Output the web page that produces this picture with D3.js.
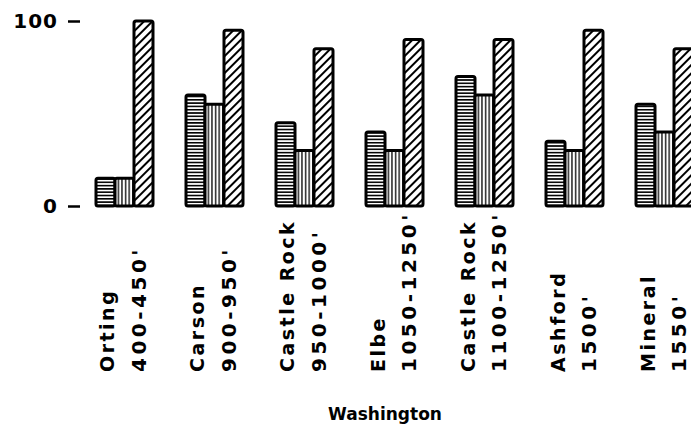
<!DOCTYPE html>
<html>
<head>
<meta charset="utf-8">
<script src="https://cdn.jsdelivr.net/npm/d3@7"></script>
<style>
  html, body { margin: 0; padding: 0; background: #fff; }
  svg { display: block; }
  text { font-family: "DejaVu Sans", sans-serif; font-weight: bold; fill: #000; }
</style>
</head>
<body>
<svg id="chart" width="691" height="431"></svg>
<script>
// Sites and elevation ranges (two-line labels under each group)
const sites = ["Orting", "Carson", "Castle Rock", "Elbe", "Castle Rock", "Ashford", "Mineral"];
const elevations = ["400-450'", "900-950'", "950-1000'", "1050-1250'", "1100-1250'", "1500'", "1550'"];

// Three series per site: horizontal-lined, vertical-lined, diagonal-hatched bars
const seriesKeys = ["horiz", "vert", "diag"];
const horizValues = [15, 60, 45, 40, 70, 35, 55];
const vertValues  = [15, 55, 30, 30, 60, 30, 40];
const diagValues  = [100, 95, 85, 90, 90, 95, 85];

const yTicks = [0, 100];
const xTitle = "Washington";

const svg = d3.select("#chart");

const groups = sites.map((s, i) => ({
  id: i,
  site: s,
  elev: elevations[i],
  values: [horizValues[i], vertValues[i], diagValues[i]]
}));

const x0 = d3.scaleBand()
  .domain(groups.map(g => g.id))
  .range([96, 693])
  .paddingInner(0.3667)
  .paddingOuter(0);

const x1 = d3.scaleBand()
  .domain(seriesKeys)
  .range([0, x0.bandwidth()]);

const y = d3.scaleLinear().domain([0, 100]).range([206, 21]);

// Fill patterns
const defs = svg.append("defs");

const pH = defs.append("pattern").attr("id", "pat-horiz")
  .attr("patternUnits", "userSpaceOnUse").attr("width", 6).attr("height", 3.3);
pH.append("rect").attr("width", 6).attr("height", 3.3).attr("fill", "#fff");
pH.append("line").attr("x1", 0).attr("x2", 6).attr("y1", 0.8).attr("y2", 0.8)
  .attr("stroke", "#000").attr("stroke-width", 1.6);

const pV = defs.append("pattern").attr("id", "pat-vert")
  .attr("patternUnits", "userSpaceOnUse").attr("width", 3.6).attr("height", 6);
pV.append("rect").attr("width", 3.6).attr("height", 6).attr("fill", "#fff");
pV.append("line").attr("x1", 0.8).attr("x2", 0.8).attr("y1", 0).attr("y2", 6)
  .attr("stroke", "#000").attr("stroke-width", 1.3);

const pD = defs.append("pattern").attr("id", "pat-diag")
  .attr("patternUnits", "userSpaceOnUse").attr("width", 6).attr("height", 6)
  .attr("patternTransform", "rotate(45)");
pD.append("rect").attr("width", 6).attr("height", 6).attr("fill", "#fff");
pD.append("line").attr("x1", 1).attr("x2", 1).attr("y1", 0).attr("y2", 6)
  .attr("stroke", "#000").attr("stroke-width", 2);

const fills = { horiz: "url(#pat-horiz)", vert: "url(#pat-vert)", diag: "url(#pat-diag)" };

// Bars
const g = svg.append("g").selectAll("g.group")
  .data(groups).join("g")
  .attr("class", "group")
  .attr("transform", d => `translate(${x0(d.id)},0)`);

g.selectAll("rect")
  .data(d => seriesKeys.map((k, i) => ({ key: k, value: d.values[i] })))
  .join("rect")
  .attr("x", d => x1(d.key))
  .attr("y", d => y(d.value))
  .attr("width", x1.bandwidth())
  .attr("height", d => y(0) - y(d.value))
  .attr("rx", 2)
  .attr("fill", d => fills[d.key])
  .attr("stroke", "#000")
  .attr("stroke-width", 3)
  .attr("stroke-linejoin", "round");

// Y axis: tick labels with short dashes, no axis line
const yAxis = d3.axisLeft(y).tickValues(yTicks).tickSize(12).tickPadding(10);
const ya = svg.append("g").attr("transform", "translate(80,0)").call(yAxis);
ya.select(".domain").remove();
ya.selectAll(".tick line").attr("stroke", "#000").attr("stroke-width", 2.5);
ya.selectAll(".tick text")
  .attr("font-size", 20)
  .style("font-family", "DejaVu Sans")
  .style("font-weight", "bold")
  .attr("letter-spacing", 1);

// Rotated two-line group labels
const lab = svg.append("g").selectAll("g.lab")
  .data(groups).join("g")
  .attr("class", "lab")
  .attr("transform", d => `translate(${x0(d.id) + x0.bandwidth() / 2},372)`);

lab.append("text")
  .attr("transform", "translate(-10,0) rotate(-90)")
  .attr("text-anchor", "start")
  .attr("font-size", 19)
  .attr("letter-spacing", 2.5)
  .text(d => d.site);

lab.append("text")
  .attr("transform", "translate(21.5,0) rotate(-90)")
  .attr("text-anchor", "start")
  .attr("font-size", 20)
  .attr("letter-spacing", 3.5)
  .text(d => d.elev);

// X title
svg.append("text")
  .attr("x", 385)
  .attr("y", 420)
  .attr("text-anchor", "middle")
  .attr("font-size", 17)
  .text(xTitle);
</script>
</body>
</html>
